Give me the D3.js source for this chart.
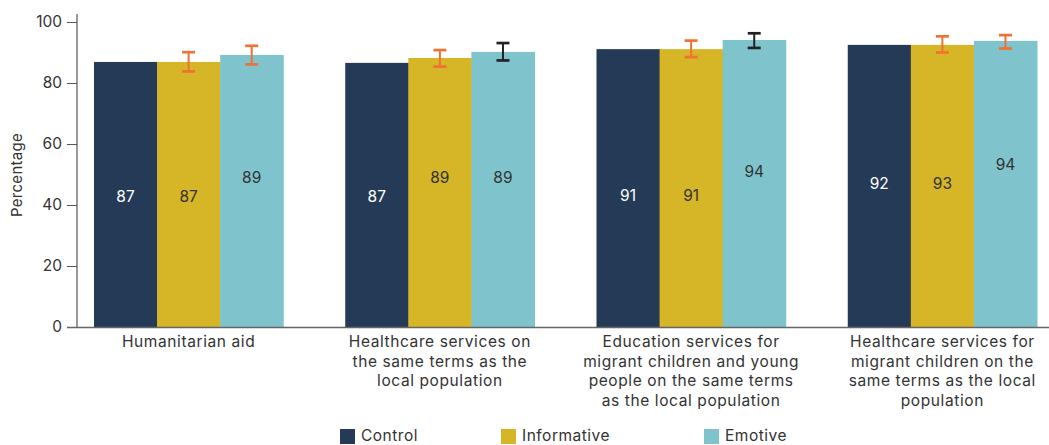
<!DOCTYPE html>
<html><head><meta charset="utf-8">
<script src="https://cdn.jsdelivr.net/npm/d3@7"></script>
<style>body{margin:0;background:#fff}svg{display:block}text{font-family:Inter,"Open Sans",sans-serif}</style>
</head><body><svg id="c" width="1049" height="445"></svg>
<script>
const categories = [
  ["Humanitarian aid"],
  ["Healthcare services on","the same terms as the","local population"],
  ["Education services for","migrant children and young","people on the same terms","as the local population"],
  ["Healthcare services for","migrant children on the","same terms as the local","population"]
];
const seriesNames = ["Control","Informative","Emotive"];
const control     = [86.9, 86.6, 91.1, 92.5];
const informative = [86.9, 88.2, 91.1, 92.5];
const emotive     = [89.2, 90.2, 94.1, 93.8];
const controlLabels     = ["87","87","91","92"];
const informativeLabels = ["87","89","91","93"];
const emotiveLabels     = ["89","89","94","94"];
const informativeLow  = [83.8, 85.4, 88.5, 90.0];
const informativeHigh = [90.1, 90.8, 93.9, 95.3];
const emotiveLow  = [86.1, 87.4, 91.5, 91.3];
const emotiveHigh = [92.2, 93.1, 96.3, 95.7];
const yTicks = [0,20,40,60,80,100];

// layout (label vertical anchors in data units, as in original)
const labelAt = {
  Control:[42.6,42.6,43.0,46.9],
  Informative:[42.6,48.9,43.0,46.9],
  Emotive:[48.9,48.9,50.8,53.1]
};
const colors = {Control:"#253a57", Informative:"#d6b527", Emotive:"#7fc4cd"};
const labelColors = {Control:"#ffffff", Informative:"#333333", Emotive:"#333333"};
const errColors = {Informative:["#ef7234","#ef7234","#ef7234","#ef7234"], Emotive:["#ef7234","#222222","#222222","#ef7234"]};

const series = {
  Control:{v:control,l:controlLabels},
  Informative:{v:informative,l:informativeLabels,lo:informativeLow,hi:informativeHigh},
  Emotive:{v:emotive,l:emotiveLabels,lo:emotiveLow,hi:emotiveHigh}
};

const svg = d3.select("#c");
const y = d3.scaleLinear().domain([0,100]).range([327,22]);
const x0 = d3.scaleBand().domain(d3.range(4)).range([77,1054]).paddingInner(0.2467).paddingOuter(0.0676);
const x1 = d3.scaleBand().domain(seriesNames).range([0,x0.bandwidth()]);

// y axis
const ya = svg.append("g").attr("transform","translate(77,0)")
  .call(d3.axisLeft(y).tickValues(yTicks).tickSize(10).tickPadding(5));
ya.select(".domain").remove();
ya.selectAll(".tick line").attr("stroke","#555");
ya.selectAll(".tick text").attr("fill","#333").style("font-size","15.5px").attr("font-family","Inter");
svg.append("line").attr("x1",77).attr("x2",77).attr("y1",14).attr("y2",327).attr("stroke","#555").attr("stroke-width",1.2);

svg.append("text").attr("transform","translate(22,175) rotate(-90)").attr("text-anchor","middle")
  .attr("fill","#333").style("font-size","15px").style("letter-spacing","0.3px").text("Percentage");

// bars
seriesNames.forEach(s=>{
  const d = series[s];
  const g = svg.append("g");
  g.selectAll("rect").data(d.v).join("rect")
    .attr("x",(v,i)=>x0(i)+x1(s)).attr("width",x1.bandwidth()+0.5)
    .attr("y",v=>y(v)).attr("height",v=>y(0)-y(v)).attr("fill",colors[s]);
  g.selectAll("text").data(d.l).join("text")
    .attr("x",(v,i)=>x0(i)+x1(s)+x1.bandwidth()/2)
    .attr("y",(v,i)=>y(labelAt[s][i])).attr("dy","0.35em")
    .attr("text-anchor","middle").attr("fill",labelColors[s]).style("font-size","15.5px").text(v=>v);
});

// x axis line
svg.append("line").attr("x1",67).attr("x2",1049).attr("y1",327.5).attr("y2",327.5).attr("stroke","#666").attr("stroke-width",1.5);

// error bars
["Informative","Emotive"].forEach(s=>{
  const d = series[s];
  d.lo.forEach((lo,i)=>{
    const cx = x0(i)+x1(s)+x1.bandwidth()/2, c = errColors[s][i];
    const hi = d.hi[i];
    svg.append("line").attr("x1",cx).attr("x2",cx).attr("y1",y(hi)).attr("y2",y(lo)).attr("stroke",c).attr("stroke-width",2);
    [hi,lo].forEach(v=>svg.append("line").attr("x1",cx-6.5).attr("x2",cx+6.5).attr("y1",y(v)).attr("y2",y(v)).attr("stroke",c).attr("stroke-width",2.7));
  });
});

// x labels
categories.forEach((lines,i)=>{
  const t = svg.append("text").attr("text-anchor","middle").attr("fill","#333").style("font-size","15.5px").style("letter-spacing","0.6px");
  lines.forEach((ln,j)=>t.append("tspan").attr("x",x0(i)+x0.bandwidth()/2).attr("y",347+j*19.5).text(ln));
});

// legend
const legX = [340,501,704];
seriesNames.forEach((s,i)=>{
  svg.append("rect").attr("x",legX[i]).attr("y",429).attr("width",15).attr("height",15).attr("fill",colors[s]);
  svg.append("text").attr("x",legX[i]+21).attr("y",441).attr("fill","#333").style("font-size","15.5px").style("letter-spacing","0.5px").text(s);
});
</script></body></html>
